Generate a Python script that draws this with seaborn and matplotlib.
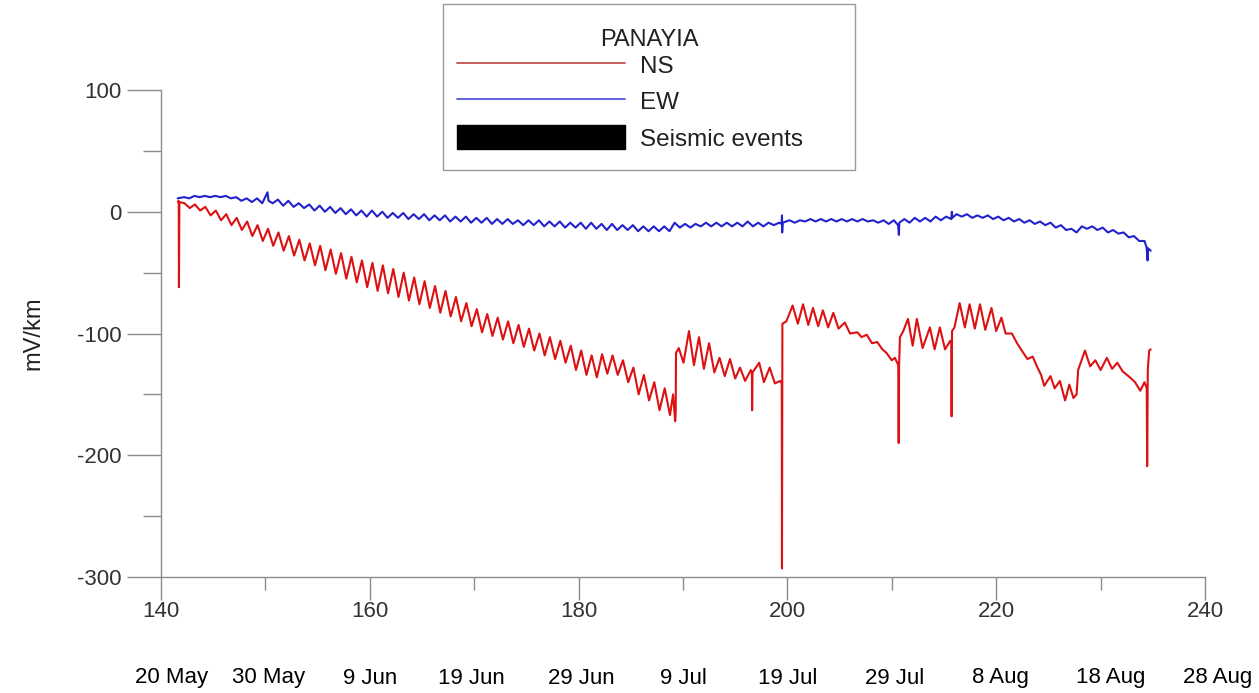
import numpy as np
import pandas as pd
import matplotlib
matplotlib.use("Agg")
import matplotlib.pyplot as plt
from matplotlib.ticker import MultipleLocator
from matplotlib.lines import Line2D
from matplotlib.patches import Patch, Rectangle
import seaborn as sns

# ---------------- data ----------------
# NS component: day-of-year knots and values (mV/km)
ns_day = [141.62, 141.70, 141.72, 141.76,
          142.25, 142.75, 143.25, 143.75, 144.25, 144.75, 145.25, 145.75,
          146.25, 146.75, 147.25, 147.75, 148.25, 148.75, 149.25, 149.75,
          150.25, 150.75, 151.25, 151.75, 152.25, 152.75, 153.25, 153.75,
          154.25, 154.75, 155.25, 155.75, 156.25, 156.75, 157.25, 157.75,
          158.25, 158.75, 159.25, 159.75, 160.25, 160.75, 161.25, 161.75,
          162.25, 162.75, 163.25, 163.75, 164.25, 164.75, 165.25, 165.75,
          166.25, 166.75, 167.25, 167.75, 168.25, 168.75, 169.25, 169.75,
          170.25, 170.75, 171.25, 171.75, 172.25, 172.75, 173.25, 173.75,
          174.25, 174.75, 175.25, 175.75, 176.25, 176.75, 177.25, 177.75,
          178.25, 178.75, 179.25, 179.75, 180.25, 180.75, 181.25, 181.75,
          182.25, 182.75, 183.25, 183.75, 184.25, 184.75, 185.25, 185.75,
          186.25, 186.75, 187.25, 187.75, 188.25, 188.75,
          189.05, 189.25, 189.30, 189.33, 189.6, 190.05, 190.57, 191.05,
          191.53, 192.0, 192.5, 193.0, 193.5, 194.0, 194.5, 195.0, 195.46,
          195.95, 196.5, 196.60, 196.62, 196.66, 197.3, 197.75, 198.3, 198.8,
          199.3, 199.46, 199.48, 199.52,
          199.9, 200.5, 201.0, 201.5, 202.0, 202.45, 202.95, 203.4, 203.9,
          204.4, 204.9, 205.5, 206.0, 206.7, 207.1, 207.6, 208.1, 208.6,
          209.1, 209.5, 210.0, 210.3, 210.62, 210.66, 210.70, 210.78,
          211.1, 211.55, 212.0, 212.4, 212.95, 213.65, 214.1, 214.6, 215.1,
          215.6, 215.70, 215.73, 215.77, 216.0, 216.5, 217.0, 217.45, 217.95,
          218.45, 218.95, 219.55, 220.0, 220.5, 220.9, 221.5, 222.0, 222.6,
          223.0, 223.5, 223.9, 224.3, 224.6, 225.2, 225.6, 226.1, 226.6,
          227.0, 227.4, 227.7, 227.85, 228.5, 229.0, 229.5, 230.0, 230.6,
          231.1, 231.6, 232.1, 232.8, 233.3, 233.8, 234.2, 234.42, 234.46,
          234.52, 234.65, 234.8]
ns_mvkm = [8, 9, -62, 8,
           7, 3, 6, 1, 4, -3, 1, -7,
           -2, -11, -5, -15, -8, -20, -11, -24,
           -14, -28, -17, -32, -20, -36, -23, -40,
           -26, -44, -28, -48, -31, -51, -34, -55,
           -37, -58, -40, -62, -42, -65, -44, -67,
           -47, -70, -50, -73, -54, -76, -57, -79,
           -61, -83, -65, -86, -70, -90, -75, -94,
           -80, -99, -84, -102, -87, -105, -90, -108,
           -93, -111, -96, -114, -100, -118, -103, -121,
           -106, -124, -110, -130, -114, -134, -118, -136,
           -117, -133, -118, -134, -122, -140, -128, -150,
           -134, -155, -140, -163, -145, -167,
           -150, -172, -165, -116, -112, -124, -98, -126,
           -103, -129, -108, -132, -120, -135, -121, -137, -128,
           -139, -130, -132, -163, -132, -124, -140, -128, -141,
           -139, -141, -293, -92,
           -90, -77, -92, -76, -93, -79, -94, -81, -95,
           -83, -96, -91, -100, -99, -103, -101, -108, -107,
           -113, -116, -122, -120, -126, -190, -126, -103,
           -98, -88, -110, -88, -112, -95, -113, -95, -113,
           -106, -106, -168, -98, -95, -75, -95, -76, -96,
           -76, -97, -79, -98, -87, -100, -100, -108, -116,
           -121, -119, -127, -134, -143, -135, -145, -139, -155,
           -142, -153, -150, -130, -114, -127, -122, -130, -120,
           -129, -124, -131, -136, -140, -147, -140, -145, -209,
           -130, -114, -113]

# EW component: day-of-year knots and values (mV/km)
ew_day = [141.6,
          142.2, 142.7, 143.2, 143.7, 144.2, 144.7, 145.2, 145.7, 146.2, 146.7,
          147.2, 147.7, 148.2, 148.7, 149.2, 149.7, 150.2, 150.3, 150.7,
          151.2, 151.7, 152.2, 152.7, 153.2, 153.7, 154.2, 154.7, 155.2, 155.7,
          156.2, 156.7, 157.2, 157.7, 158.2, 158.7, 159.2, 159.7, 160.2, 160.7,
          161.2, 161.7, 162.2, 162.7, 163.2, 163.7, 164.2, 164.7, 165.2, 165.7,
          166.2, 166.7, 167.2, 167.7, 168.2, 168.7, 169.2, 169.7, 170.2, 170.7,
          171.2, 171.7, 172.2, 172.7, 173.2, 173.7, 174.2, 174.7, 175.2, 175.7,
          176.2, 176.7, 177.2, 177.7, 178.2, 178.7, 179.2, 179.7, 180.2, 180.7,
          181.2, 181.7, 182.2, 182.7, 183.2, 183.7, 184.2, 184.7, 185.2, 185.7,
          186.2, 186.7, 187.2, 187.7, 188.2, 188.7, 189.2, 189.7, 190.2, 190.7,
          191.2, 191.7, 192.2, 192.7, 193.2, 193.7, 194.2, 194.7, 195.2, 195.7,
          196.2, 196.7, 197.2, 197.7, 198.2, 198.7, 199.2, 199.45, 199.48,
          199.50, 199.55,
          200.2, 200.7, 201.2, 201.7, 202.2, 202.7, 203.2, 203.7, 204.2, 204.7,
          205.2, 205.7, 206.2, 206.7, 207.2, 207.7, 208.2, 208.7, 209.2, 209.7,
          210.2, 210.6, 210.68, 210.72,
          211.2, 211.7, 212.2, 212.7, 213.2, 213.7, 214.2, 214.7, 215.2, 215.7,
          215.75, 215.8,
          216.2, 216.7, 217.2, 217.7, 218.2, 218.7, 219.2, 219.7, 220.2, 220.7,
          221.2, 221.7, 222.2, 222.7, 223.2, 223.7, 224.2, 224.7, 225.2, 225.7,
          226.2, 226.7, 227.2, 227.7, 228.2, 228.7, 229.2, 229.7, 230.2, 230.7,
          231.2, 231.7, 232.2, 232.7, 233.2, 233.7, 234.2, 234.4, 234.5, 234.55,
          234.8]
ew_mvkm = [11,
           12, 11, 13, 12, 13, 12, 13, 12, 13, 11,
           12, 9, 11, 8, 11, 7, 16, 9, 7,
           10, 5, 9, 4, 7, 3, 6, 1, 5, 0,
           4, -1, 3, -2, 2, -3, 1, -4, 1, -4,
           0, -5, -1, -5, -1, -6, -2, -6, -2, -7,
           -3, -7, -3, -8, -4, -8, -4, -9, -5, -9,
           -5, -10, -6, -10, -6, -10, -7, -11, -7, -11,
           -7, -12, -8, -12, -8, -13, -9, -13, -9, -14,
           -9, -14, -10, -15, -10, -15, -11, -15, -11, -16,
           -12, -16, -12, -16, -12, -16, -9, -13, -10, -13,
           -10, -12, -9, -12, -9, -12, -9, -12, -9, -12,
           -8, -12, -9, -12, -9, -11, -9, -10, -3,
           -17, -9,
           -7, -9, -7, -8, -6, -8, -6, -8, -6, -8,
           -6, -8, -6, -8, -6, -8, -7, -9, -7, -10,
           -7, -11, -19, -9,
           -6, -9, -5, -8, -5, -8, -4, -7, -4, -6,
           0, -5,
           -2, -4, -2, -5, -3, -5, -3, -6, -4, -7,
           -5, -8, -6, -9, -7, -10, -8, -11, -9, -13,
           -11, -15, -14, -17, -12, -14, -12, -15, -13, -17,
           -15, -18, -17, -21, -20, -24, -24, -29, -40, -30,
           -32]

series_names = ["NS", "EW"]
series_colors = ["#dd1111", "#2222cc"]
legend_title = "PANAYIA"
legend_labels = ["NS", "EW", "Seismic events"]

x_ticks = [140, 160, 180, 200, 220, 240]
y_ticks = [100, 0, -100, -200, -300]
date_labels = ["20 May", "30 May", "9 Jun", "19 Jun", "29 Jun", "9 Jul",
               "19 Jul", "29 Jul", "8 Aug", "18 Aug", "28 Aug"]
date_days = [141, 150.3, 160, 169.7, 180.3, 190, 200, 210.3, 220.4, 231, 241.2]

df = pd.concat([
    pd.DataFrame({"day": ns_day, "mV/km": ns_mvkm, "comp": "NS"}),
    pd.DataFrame({"day": ew_day, "mV/km": ew_mvkm, "comp": "EW"}),
], ignore_index=True)

# ---------------- plotting ----------------
sns.set_theme(style="white")
plt.rcParams["font.family"] = ["Liberation Sans", "DejaVu Sans"]
plt.rcParams["axes.unicode_minus"] = False

W, H = 1259, 693
fig = plt.figure(figsize=(W / 100, H / 100), dpi=100)
ax = fig.add_axes([161 / W, 116 / H, 1044 / W, 487 / H])

sns.lineplot(data=df, x="day", y="mV/km", hue="comp", hue_order=series_names,
             palette=dict(zip(series_names, series_colors)), estimator=None,
             sort=False, legend=False, linewidth=1.5, ax=ax)

ax.set_xlim(140, 240)
ax.set_ylim(-300, 100)
ax.set_xticks(x_ticks)
ax.set_yticks(y_ticks)
ax.xaxis.set_minor_locator(MultipleLocator(10))
ax.yaxis.set_minor_locator(MultipleLocator(50))

axis_gray = "#8c8c8c"
for side in ["top", "right"]:
    ax.spines[side].set_visible(False)
for side in ["left", "bottom"]:
    ax.spines[side].set_color(axis_gray)
    ax.spines[side].set_linewidth(1.0)

ax.tick_params(axis="both", which="both", direction="out", color=axis_gray,
               width=1.0, labelcolor="#333333", labelsize=16)
ax.tick_params(axis="y", which="major", length=24.5, pad=4, left=True)
ax.tick_params(axis="y", which="minor", length=13, left=True)
ax.tick_params(axis="x", which="major", length=16.5, pad=1, bottom=True)
ax.tick_params(axis="x", which="minor", length=9, bottom=True)

ax.set_xlabel("")
ax.set_ylabel("mV/km", fontsize=17, color="#222222", labelpad=23)
ax.grid(False)

# date row under the day-of-year ticks
trans = matplotlib.transforms.blended_transform_factory(ax.transData, fig.transFigure)
for d, lab in zip(date_days, date_labels):
    ax.text(d, 1 - 678 / H, lab, transform=trans, ha="center", va="center",
            fontsize=16, color="black", clip_on=False)

# legend frame (drawn separately so the padding can match the reference)
fig.patches.append(Rectangle((443 / W, 1 - 170 / H), 412 / W, 166 / H,
                             transform=fig.transFigure, facecolor="white",
                             edgecolor="#999999", linewidth=1.0, zorder=4))

handles = [Line2D([0], [0], color="#c0504d", lw=1.3),
           Line2D([0], [0], color="#5555dd", lw=1.3),
           Patch(facecolor="black", edgecolor="black")]
leg = fig.legend(handles, legend_labels, title=legend_title,
                 loc="upper left", mode="expand",
                 bbox_to_anchor=(457 / W, 1 - 29.5 / H, 384 / W, 0.0),
                 bbox_transform=fig.transFigure,
                 fontsize=17.5, title_fontsize=17, frameon=False,
                 borderaxespad=0, borderpad=0, handlelength=6.9,
                 handleheight=1.15, handletextpad=0.62, labelspacing=0.45)
leg.set_zorder(5)
leg._legend_box.sep = 1
leg.get_title().set_color("#222222")
for t in leg.get_texts():
    t.set_color("#222222")

fig.savefig("out.png", dpi=100)
